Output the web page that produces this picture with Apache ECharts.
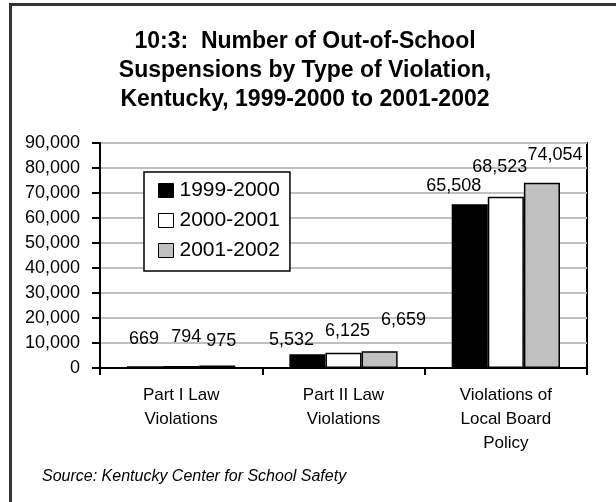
<!DOCTYPE html>
<html>
<head>
<meta charset="utf-8">
<script src="https://cdn.jsdelivr.net/npm/echarts@6/dist/echarts.min.js"></script>
<style>
  html, body { margin: 0; padding: 0; background: #fff; }
  #chart { width: 616px; height: 502px; }
</style>
</head>
<body>
<div id="chart"></div>
<script>
// Out-of-school suspensions by violation type, Kentucky
const titleLines = [
  '10:3:  Number of Out-of-School',
  'Suspensions by Type of Violation,',
  'Kentucky, 1999-2000 to 2001-2002'
];
const categories = ['Part I Law\nViolations', 'Part II Law\nViolations', 'Violations of\nLocal Board\nPolicy'];
const seriesNames = ['1999-2000', '2000-2001', '2001-2002'];
const values1999 = [669, 5532, 65508];
const values2000 = [794, 6125, 68523];
const values2001 = [975, 6659, 74054];
const yTicks = { min: 0, max: 90000, step: 10000 };
const sourceNote = 'Source: Kentucky Center for School Safety';

// hand-placed value label nudges [dx, dy] per bar
const labelNudges = [
  [[-1, -13], [-16, 0], [-16, -4]],
  [[5, -15], [4, -8], [-6, -16]],
  [[4, -11], [24, -17], [13, -14]]
];
const fills = ['#000000', '#ffffff', '#c0c0c0'];
const FONT = '"Liberation Sans", Arial, sans-serif';
const fmt = v => Number(v).toLocaleString('en-US');

const allValues = [values1999, values2000, values2001];

const chart = echarts.init(document.getElementById('chart'), null, { renderer: 'canvas' });

chart.setOption({
  animation: false,
  backgroundColor: '#ffffff',
  textStyle: { fontFamily: FONT, color: '#000' },
  graphic: [
    {
      type: 'rect',
      shape: { x: 10.5, y: 4.5, width: 800, height: 700 },
      style: { fill: null, stroke: '#333333', lineWidth: 3 },
      silent: true,
      z: 100
    },
    {
      type: 'text',
      x: 305,
      y: 27,
      style: {
        text: titleLines.join('\n'),
        font: 'bold 23px ' + FONT,
        lineHeight: 29,
        align: 'center',
        verticalAlign: 'top',
        fill: '#000'
      }
    },
    {
      type: 'text',
      x: 42,
      y: 477,
      style: {
        text: sourceNote,
        font: 'italic 16px ' + FONT,
        verticalAlign: 'middle',
        fill: '#000'
      }
    }
  ],
  grid: {
    left: 100, top: 143, right: 29, bottom: 134,
    show: true, borderColor: '#000', borderWidth: 2, backgroundColor: 'transparent',
    containLabel: false
  },
  legend: {
    data: seriesNames,
    orient: 'vertical',
    left: 144,
    top: 172,
    padding: [8, 10, 10, 14],
    itemGap: 9,
    itemWidth: 15,
    itemHeight: 14,
    backgroundColor: '#fff',
    borderColor: '#000',
    borderWidth: 1.5,
    borderRadius: 0,
    icon: 'rect',
    itemStyle: { borderColor: '#000', borderWidth: 1 },
    textStyle: { fontFamily: FONT, fontSize: 21, lineHeight: 20, color: '#000', padding: [0, 0, 0, 1] },
    z: 50
  },
  xAxis: {
    type: 'category',
    data: categories,
    axisLine: { lineStyle: { color: '#000', width: 2 } },
    axisTick: { show: true, inside: false, length: 7, lineStyle: { color: '#000', width: 2 } },
    axisLabel: { fontFamily: FONT, fontSize: 17, lineHeight: 24, color: '#000', margin: 15, interval: 0 },
    splitLine: { show: false }
  },
  yAxis: {
    type: 'value',
    min: yTicks.min,
    max: yTicks.max,
    interval: yTicks.step,
    axisLine: { show: true, lineStyle: { color: '#000', width: 2 } },
    axisTick: { show: true, inside: false, length: 8, lineStyle: { color: '#000', width: 2 } },
    axisLabel: { fontFamily: FONT, fontSize: 18, color: '#000', margin: 20, formatter: fmt },
    splitLine: { show: true, lineStyle: { color: '#c0c0c0', width: 2 } }
  },
  series: seriesNames.map((name, si) => ({
    name,
    type: 'bar',
    barGap: '0%',
    barCategoryGap: '33.3%',
    itemStyle: { color: fills[si], borderColor: '#000', borderWidth: 1.5 },
    data: allValues[si].map((v, ci) => ({
      value: v,
      label: { offset: labelNudges[si][ci] }
    })),
    label: {
      show: true,
      position: 'top',
      distance: 5,
      fontFamily: FONT,
      fontSize: 18,
      color: '#000',
      formatter: p => fmt(p.value)
    }
  }))
});
</script>
</body>
</html>
